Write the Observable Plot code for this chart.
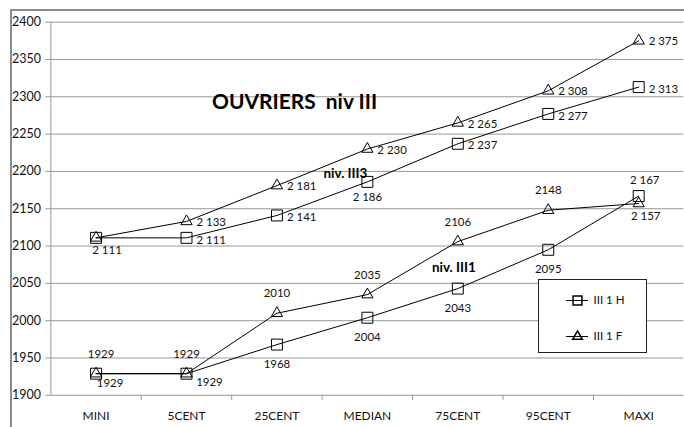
<!DOCTYPE html>
<html>
<head>
<meta charset="utf-8">
<script src="https://cdn.jsdelivr.net/npm/d3@7"></script>
<script src="https://cdn.jsdelivr.net/npm/@observablehq/plot@0.6"></script>
<style>
  html, body { margin: 0; padding: 0; background: #fff; }
  body { width: 684px; height: 427px; overflow: hidden; position: relative; font-family: Lato, "DejaVu Sans", sans-serif; }
  #chart { position: absolute; left: 0; top: 0; }
  #chart svg text { white-space: pre; }
  #frame { position: absolute; left: 10px; top: 9px; width: 800px; height: 600px;
           border-left: 2px solid #8c8c8c; border-top: 2px solid #8c8c8c; pointer-events: none; }
  #legend { position: absolute; left: 538px; top: 279px; width: 107px; height: 72px;
            border: 1px solid #222; background: #fff; }
</style>
</head>
<body>
<div id="chart"></div>
<div id="frame"></div>
<div id="legend"></div>
<script>
// ---- data ----
const categories = ["MINI", "5CENT", "25CENT", "MEDIAN", "75CENT", "95CENT", "MAXI"];
const iii3H = [2111, 2111, 2141, 2186, 2237, 2277, 2313];
const iii3F = [2111, 2133, 2181, 2230, 2265, 2308, 2375];
const iii1H = [1929, 1929, 1968, 2004, 2043, 2095, 2167];
const iii1F = [1929, 1929, 2010, 2035, 2106, 2148, 2157];
const yTicks = [1900, 1950, 2000, 2050, 2100, 2150, 2200, 2250, 2300, 2350, 2400];
const title = "OUVRIERS  niv III";
const noteIII3 = "niv. III3";
const noteIII1 = "niv. III1";
const legendNames = ["III 1 H", "III 1 F"];

// ---- helpers ----
const idx = d3.range(categories.length);
const spaced = v => String(v).replace(/(\d)(\d{3})$/, "$1 $2");
const plain = v => String(v);

const grey = "#969696";
const font = "Lato";

function seriesMarks(values, symbol, r) {
  return [
    Plot.line(idx, {x: i => i, y: i => values[i], stroke: "#000", strokeWidth: 1}),
    Plot.dot(idx, {x: i => i, y: i => values[i], symbol, r, stroke: "#000", strokeWidth: 1, fill: "none"})
  ];
}

function labelMarks(values, fmt, groups) {
  return groups.map(g => Plot.text(g.idx, {
    x: i => i, y: i => values[i], text: i => (g.fmt || fmt)(values[i]),
    dx: g.dx, dy: g.dy, textAnchor: g.anchor || "middle", fontSize: 11.5, fill: "#111"
  }));
}

const chart = Plot.plot({
  width: 686,
  height: 427,
  marginLeft: 50.5,
  marginRight: 0.6,
  marginTop: 21.7,
  marginBottom: 31,
  style: {fontFamily: font, fontSize: "11px", background: "transparent", color: "#111"},
  x: {domain: [-0.5, categories.length - 0.5], axis: null},
  y: {domain: [yTicks[0], yTicks[yTicks.length - 1]], axis: null},
  marks: [
    Plot.gridY(yTicks.slice(1), {stroke: grey, strokeOpacity: 1}),
    Plot.ruleY([yTicks[0]], {stroke: grey}),
    Plot.ruleX([-0.5], {stroke: grey}),
    Plot.axisY(yTicks, {tickSize: 5, tickPadding: 5, stroke: grey, fill: "#111", fontSize: 12.5, tickFormat: d => String(d)}),
    Plot.axisX(d3.range(0.5, categories.length - 0.5, 1), {tickSize: 5, stroke: grey, tickFormat: () => ""}),
    Plot.axisX(idx, {tickSize: 0, tickPadding: 16, fill: "#111", fontSize: 12, tickFormat: i => categories[i]}),

    ...seriesMarks(iii3H, "square", 6.2),
    ...seriesMarks(iii3F, "triangle", 4.2),
    ...seriesMarks(iii1H, "square", 6.2),
    ...seriesMarks(iii1F, "triangle", 4.2),

    ...labelMarks(iii3H, spaced, [
      {idx: [0], dx: 11, dy: 13},
      {idx: [3], dx: 0, dy: 16},
      {idx: [1, 2, 4, 5, 6], dx: 10, dy: 2, anchor: "start"}
    ]),
    ...labelMarks(iii3F, spaced, [
      {idx: [1, 2, 3, 4, 5, 6], dx: 10, dy: 1, anchor: "start"}
    ]),
    ...labelMarks(iii1H, plain, [
      {idx: [0], dx: 14, dy: 10},
      {idx: [1], dx: 23, dy: 9},
      {idx: [2, 3, 4, 5], dx: 0, dy: 20},
      {idx: [6], dx: 6, dy: -16, fmt: spaced}
    ]),
    ...labelMarks(iii1F, plain, [
      {idx: [0], dx: 5, dy: -19},
      {idx: [1, 2, 3, 4, 5], dx: 0, dy: -19.5},
      {idx: [6], dx: 7, dy: 13, fmt: spaced}
    ]),

    Plot.text([title], {frameAnchor: "top", lineAnchor: "middle", dx: -73, dy: 80, fontSize: 21, fontWeight: "bold", fill: "#000"}),
    Plot.text([noteIII3], {x: () => 3, y: () => iii3H[3], dx: -22, dy: -8, fontSize: 13.5, fontWeight: "bold", fill: "#000"}),
    Plot.text([noteIII1], {x: () => 4, y: () => iii1H[4], dx: -4, dy: -21, fontSize: 13.5, fontWeight: "bold", fill: "#000"})
  ]
});
document.getElementById("chart").appendChild(chart);

// ---- legend (inside the plot area, as in the reference) ----
const legend = Plot.plot({
  width: 107, height: 72, margin: 0,
  x: {domain: [0, 107], axis: null}, y: {domain: [0, 72], reverse: true, axis: null},
  style: {fontFamily: font, fontSize: "11.5px", background: "transparent"},
  marks: [
    Plot.ruleY([20, 56], {x1: 27, x2: 49, stroke: "#000"}),
    Plot.dot([0], {x: 38, y: 20, symbol: "square", r: 5, stroke: "#000", fill: "none"}),
    Plot.dot([0], {x: 38, y: 56, symbol: "triangle", r: 3.6, stroke: "#000", fill: "none"}),
    Plot.text(legendNames, {x: 54, y: (d, i) => [20, 56][i], text: d => d, textAnchor: "start", fill: "#111"})
  ]
});
document.getElementById("legend").appendChild(legend);
</script>
</body>
</html>
